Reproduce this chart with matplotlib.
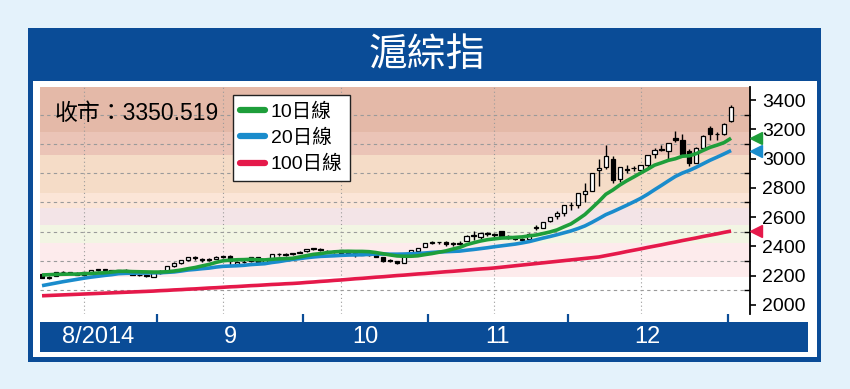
import numpy as np
import matplotlib
matplotlib.use('Agg')
import matplotlib.pyplot as plt
from matplotlib.patches import Rectangle
from matplotlib.lines import Line2D
import matplotlib.transforms as mtrans

plt.rcParams['font.family'] = ['Liberation Sans', 'Noto Sans CJK TC']

# 月份 (每月交易日數) 8/2014 .. 12/2014, 之後一日是 1/2015
month_labels = ['8/2014', '9', '10', '11', '12']
month_days = [17, 21, 18, 20, 23, 1]

opens = [2213, 2186, 2198, 2222, 2220, 2220, 2205, 2227, 2239, 2243,
         2236, 2231, 2240, 2228, 2205, 2205, 2193,
         2217, 2235, 2265, 2288, 2306, 2327, 2312, 2310, 2315, 2332, 2334, 2283, 2293, 2299,
         2326, 2285, 2313, 2347, 2344, 2346, 2358,
         2368, 2384, 2384, 2370, 2366, 2358, 2370, 2352, 2344, 2355, 2342, 2325, 2303, 2302,
         2289, 2338, 2370, 2396,
         2422, 2428, 2432, 2418, 2424, 2440, 2481, 2464, 2490, 2483, 2507, 2473, 2455, 2446,
         2452, 2528, 2528, 2574, 2605, 2628,
         2681, 2683, 2759, 2778, 2920, 2940, 3000, 2860, 2926, 2935, 2920, 2957, 3030, 3063,
         3055, 3138, 3128, 3052, 2968, 3073, 3210, 3168, 3171,
         3258]
highs = [2214, 2196, 2228, 2230, 2226, 2224, 2227, 2241, 2248, 2248,
         2238, 2241, 2244, 2231, 2214, 2208, 2218,
         2237, 2267, 2291, 2307, 2327, 2333, 2318, 2320, 2334, 2338, 2340, 2299, 2304, 2330,
         2330, 2315, 2346, 2355, 2354, 2358, 2366,
         2384, 2391, 2387, 2375, 2377, 2374, 2378, 2359, 2357, 2361, 2348, 2329, 2311, 2303,
         2337, 2374, 2392, 2423,
         2435, 2433, 2440, 2428, 2436, 2478, 2503, 2495, 2500, 2490, 2508, 2480, 2462, 2455,
         2490, 2544, 2567, 2604, 2640, 2683,
         2700, 2763, 2833, 2899, 2994, 3091, 3020, 2940, 2957, 2946, 2958, 3022, 3070, 3091,
         3108, 3187, 3168, 3067, 3077, 3158, 3220, 3182, 3240,
         3369]
lows = [2185, 2175, 2198, 2213, 2212, 2203, 2197, 2222, 2233, 2230,
        2222, 2226, 2226, 2203, 2200, 2193, 2192,
        2212, 2232, 2262, 2281, 2302, 2309, 2295, 2303, 2312, 2320, 2272, 2265, 2285, 2296,
        2289, 2283, 2311, 2338, 2338, 2340, 2354,
        2360, 2378, 2366, 2358, 2352, 2355, 2352, 2325, 2339, 2338, 2325, 2296, 2295, 2281,
        2288, 2338, 2368, 2393,
        2418, 2419, 2405, 2406, 2410, 2440, 2441, 2454, 2474, 2467, 2464, 2452, 2445, 2440,
        2446, 2510, 2524, 2564, 2590, 2610,
        2650, 2663, 2700, 2776, 2813, 2930, 2834, 2840, 2900, 2914, 2911, 2945, 3005, 3050,
        3000, 3110, 3030, 2951, 2967, 3073, 3125, 3130, 3160,
        3253]
closes = [2187, 2194, 2224, 2222, 2220, 2207, 2226, 2239, 2245, 2240,
          2232, 2240, 2229, 2206, 2207, 2195, 2217,
          2235, 2266, 2288, 2306, 2326, 2318, 2307, 2315, 2331, 2331, 2300, 2293, 2296, 2329,
          2290, 2314, 2345, 2345, 2347, 2357, 2364,
          2382, 2389, 2374, 2366, 2359, 2374, 2357, 2341, 2356, 2340, 2327, 2302, 2302, 2290,
          2337, 2373, 2391, 2420,
          2430, 2430, 2419, 2425, 2418, 2473, 2469, 2494, 2485, 2478, 2474, 2456, 2450, 2452,
          2487, 2532, 2567, 2604, 2630, 2683,
          2680, 2763, 2779, 2899, 2937, 3020, 2856, 2940, 2925, 2938, 2953, 3021, 3061, 3058,
          3108, 3128, 3032, 2968, 3073, 3157, 3168, 3166, 3235,
          3350.519]

ma10 = [2205, 2207, 2209, 2210, 2211, 2211, 2214, 2215, 2218, 2220,
        2225, 2230, 2230, 2228, 2227, 2226, 2225, 2225, 2227, 2232,
        2239, 2248, 2256, 2267, 2277, 2291, 2302, 2306, 2309, 2310,
        2312, 2309, 2308, 2312, 2315, 2317, 2319, 2328, 2337, 2346,
        2351, 2358, 2363, 2366, 2367, 2366, 2366, 2364, 2358, 2350,
        2342, 2335, 2333, 2333, 2336, 2344, 2351, 2360, 2369, 2382,
        2393, 2412, 2425, 2437, 2446, 2452, 2457, 2459, 2462, 2465,
        2472, 2478, 2488, 2499, 2513, 2534, 2554, 2585, 2618, 2662,
        2707, 2756, 2785, 2819, 2848, 2874, 2901, 2927, 2955, 2971,
        2988, 2999, 3016, 3019, 3034, 3056, 3077, 3092, 3109, 3139]
ma20 = [2132, 2141, 2150, 2159, 2167, 2175, 2183, 2190, 2196, 2202,
        2207, 2214, 2216, 2217, 2218, 2218, 2220, 2220, 2223, 2226,
        2232, 2239, 2243, 2248, 2252, 2259, 2264, 2266, 2268, 2271,
        2276, 2279, 2282, 2290, 2296, 2304, 2311, 2317, 2323, 2328,
        2332, 2334, 2336, 2339, 2341, 2342, 2343, 2346, 2348, 2348,
        2347, 2347, 2348, 2350, 2352, 2355, 2359, 2362, 2364, 2366,
        2368, 2374, 2379, 2385, 2391, 2398, 2404, 2410, 2416, 2424,
        2433, 2445, 2457, 2468, 2480, 2493, 2506, 2522, 2540, 2564,
        2590, 2617, 2637, 2659, 2681, 2704, 2728, 2756, 2787, 2817,
        2848, 2878, 2901, 2919, 2941, 2965, 2989, 3010, 3032, 3055]
ma100 = [2063, 2065, 2067, 2069, 2071, 2073, 2075, 2077, 2079, 2081,
         2083, 2085, 2087, 2089, 2091, 2093, 2095, 2098, 2100, 2103,
         2105, 2108, 2110, 2113, 2116, 2118, 2121, 2124, 2126, 2129,
         2132, 2134, 2137, 2140, 2142, 2145, 2147, 2150, 2154, 2157,
         2161, 2164, 2168, 2171, 2175, 2179, 2182, 2186, 2190, 2193,
         2197, 2201, 2204, 2208, 2212, 2215, 2219, 2223, 2227, 2230,
         2234, 2238, 2242, 2246, 2249, 2253, 2258, 2263, 2268, 2273,
         2278, 2283, 2288, 2293, 2298, 2303, 2308, 2313, 2318, 2323,
         2328, 2337, 2346, 2355, 2365, 2374, 2383, 2393, 2402, 2411,
         2421, 2430, 2440, 2449, 2458, 2468, 2477, 2486, 2496, 2505]

# 背景色帶 (指數範圍)
band_edges = [3490, 3182, 3025, 2765, 2662, 2546, 2423, 2190]
band_colors = ['#e4b9a8', '#ebc4b7', '#f5dcc7', '#fbe5d7', '#f3e4e7', '#f2f5e3', '#fdebec']
mid_month_days = [6, 26, 43, 65, 86]   # 每月中旬的虛線

GREEN = '#1e9e3a'
BLUE = '#1a8ccc'
RED = '#e5194a'
NAVY = '#0a4c97'

W, H = 850, 389
def fx(px):
    return px / W
def fy(py):
    return 1 - py / H

fig = plt.figure(figsize=(8.5, 3.89), dpi=100)
fig.patch.set_facecolor('#e4f2fb')
fig.patches.append(Rectangle((fx(28), fy(362)), fx(821) - fx(28), (362 - 28) / H,
                             transform=fig.transFigure, facecolor=NAVY, edgecolor='none', zorder=-2))
fig.patches.append(Rectangle((fx(33), fy(357)), fx(817) - fx(33), (357 - 81) / H,
                             transform=fig.transFigure, facecolor='white', edgecolor='none', zorder=-1))
fig.text(fx(427), fy(55), '滬綜指', color='white', fontsize=28, ha='center', va='center',
         family=['Noto Sans CJK TC'])

x = np.arange(len(closes))
xmin, xmax = -0.29, 101.72

ax = fig.add_axes([fx(40), fy(314), (750 - 40) / W, (314 - 87) / H])
ax.set_xlim(xmin, xmax)
ax.set_ylim(1938.5, 3488.8)
ax.set_facecolor('white')

for k in range(len(band_colors)):
    ax.axhspan(band_edges[k + 1], band_edges[k], color=band_colors[k], lw=0, zorder=0)

for v in range(2100, 3400, 200):
    ax.axhline(v, color='#9a9a9a', lw=0.8, ls=(0, (3, 3)), zorder=1)
for d in mid_month_days:
    ax.axvline(d, color='#9a9a9a', lw=0.8, ls=(0, (1, 2.5)), zorder=1)

# 陰陽燭
o = np.array(opens, dtype=float)
c = np.array(closes, dtype=float)
ax.vlines(x, lows, highs, color='black', lw=1, zorder=3)
up = c >= o
body = np.maximum(np.abs(c - o), 2)
ax.bar(x, body, bottom=np.minimum(o, c), width=0.62,
       color=np.where(up, 'white', 'black'), edgecolor='black', lw=0.9, zorder=3)

ax.plot(x, ma100, color=RED, lw=2.6, zorder=4, solid_capstyle='butt')
ax.plot(x, ma20, color=BLUE, lw=2.6, zorder=4, solid_capstyle='butt')
ax.plot(x, ma10, color=GREEN, lw=2.6, zorder=4, solid_capstyle='butt')

# 右邊三角標記
trans = mtrans.blended_transform_factory(ax.transAxes, ax.transData)
for val, col in [(ma10[-1], GREEN), (ma20[-1], BLUE), (ma100[-1], RED)]:
    ax.plot(1.009, val, marker='<', color=col, ms=8, transform=trans, clip_on=False, zorder=5)

for s in ['left', 'top', 'bottom']:
    ax.spines[s].set_visible(False)
ax.spines['right'].set_linewidth(1.3)
ax.set_xticks([])
ax.yaxis.tick_right()
ax.set_yticks(range(2000, 3401, 200))
ax.set_yticks(range(2100, 3400, 200), minor=True)
ax.tick_params(axis='y', which='major', direction='out', length=4.5, width=1.2,
               labelsize=14, pad=4)
ax.tick_params(axis='y', which='minor', direction='in', length=4, width=1)

fig.text(fx(55), fy(113), '收市：{:.3f}'.format(closes[-1]), fontsize=16.5, va='center')

handles = [Line2D([], [], color=GREEN, lw=4.5, solid_capstyle='round'),
           Line2D([], [], color=BLUE, lw=4.5, solid_capstyle='round'),
           Line2D([], [], color=RED, lw=4.5, solid_capstyle='round')]
leg = ax.legend(handles, ['10日線', '20日線', '100日線'], loc='upper left',
                bbox_to_anchor=((233 - 40) / 710, (314 - 95) / 227), borderaxespad=0,
                fontsize=14, handlelength=1.25, handletextpad=0.3, labelspacing=0.42,
                borderpad=0.38, fancybox=False, framealpha=1)
leg.get_frame().set_edgecolor('#222222')
leg.get_frame().set_linewidth(1)
leg.set_zorder(6)

# 月份條
bx = fig.add_axes([fx(40), fy(352), (808 - 40) / W, 30 / H])
bx.set_facecolor(NAVY)
bx.set_xlim(xmin, xmin + (xmax - xmin) * 768 / 710)
bx.set_ylim(0, 1)
for s in bx.spines.values():
    s.set_visible(False)
edges = np.cumsum(month_days) - 0.5
bx.set_xticks(edges[:-1])
bx.xaxis.tick_top()
bx.tick_params(axis='x', direction='out', length=6, width=1.6, color=NAVY, labeltop=False)
bx.set_yticks([])
starts = np.concatenate([[xmin], edges[:-2]])
for lab, a, b in zip(month_labels, starts, edges[:-1]):
    bx.text((a + b) / 2, 0.5, lab, color='white', fontsize=17, ha='center', va='center')

fig.savefig('out.png', dpi=100)
